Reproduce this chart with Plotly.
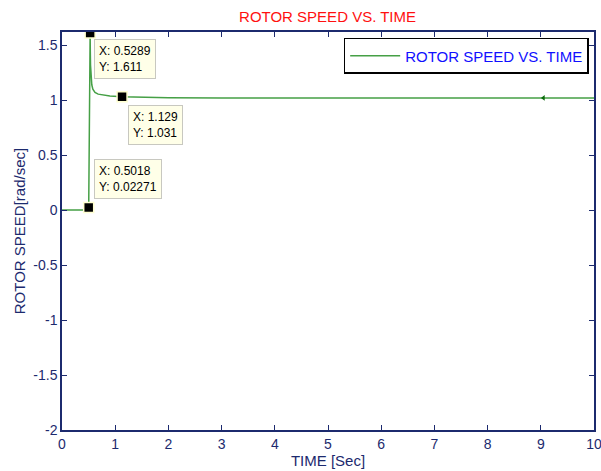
import plotly.graph_objects as go

# Rotor speed response samples (time in s, speed in rad/sec)
time = [0.0, 0.5, 0.5018, 0.515, 0.5289, 0.532, 0.536, 0.545, 0.56, 0.58, 0.62,
        0.68, 0.78, 0.9, 1.129, 1.5, 2.0, 3.0, 4.0, 5.0, 6.0, 7.0, 8.0, 9.0, 10.0]
speed = [0.0, 0.0, 0.02271, 0.9, 1.611, 1.45, 1.32, 1.21, 1.14, 1.1, 1.07,
         1.055, 1.045, 1.037, 1.031, 1.025, 1.022, 1.02, 1.02, 1.02, 1.02, 1.02, 1.02, 1.02, 1.02]

# Data cursor points
tip_x = [0.5289, 1.129, 0.5018]
tip_y = [1.611, 1.031, 0.02271]

x_ticks = [0, 1, 2, 3, 4, 5, 6, 7, 8, 9, 10]
y_ticks = [-2, -1.5, -1, -0.5, 0, 0.5, 1, 1.5]
y_labels = ["-2", "-1.5", "-1", "-0.5", "0", "0.5", "1", "1.5"]

axis_color = "#1c2a6e"
font_family = "Liberation Sans, Arial, sans-serif"
tick_font = dict(family=font_family, size=14, color=axis_color)

fig = go.Figure()
fig.add_trace(go.Scatter(
    x=time, y=speed, mode="lines",
    line=dict(color="rgb(70,160,70)", width=1.5),
    name="ROTOR SPEED VS. TIME",
))
# small direction marker on the settled curve
fig.add_trace(go.Scatter(
    x=[9.05], y=[1.02], mode="markers",
    marker=dict(symbol="triangle-left", size=5, color="#0a6a0a"),
    showlegend=False, hoverinfo="skip",
))
fig.add_trace(go.Scatter(
    x=tip_x, y=tip_y, mode="markers",
    marker=dict(symbol="square", size=10, color="black",
                line=dict(color="#ffffd0", width=1.5)),
    showlegend=False, hoverinfo="skip",
))

# data cursor text boxes
tip_layout = [
    dict(xanchor="left", yanchor="top", xshift=4, yshift=-6),
    dict(xanchor="left", yanchor="top", xshift=6, yshift=-8),
    dict(xanchor="left", yanchor="bottom", xshift=5, yshift=9),
]
for tx, ty, lay in zip(tip_x, tip_y, tip_layout):
    fig.add_annotation(
        x=tx, y=ty, xref="x", yref="y",
        text=f"X: {tx:g}<br>Y: {ty:g}",
        showarrow=False, align="left",
        font=dict(family=font_family, size=12, color="black"),
        bgcolor="#ffffe8", bordercolor="#c8c8c0", borderwidth=1, borderpad=4,
        **lay,
    )

fig.update_layout(
    width=601, height=471,
    margin=dict(l=62, r=7, t=32, b=41, autoexpand=False),
    paper_bgcolor="white", plot_bgcolor="white",
    font=dict(family=font_family, size=14, color=axis_color),
    title=dict(text="ROTOR SPEED VS. TIME", x=0.545, xanchor="center",
               y=0.965, yanchor="middle",
               font=dict(color="#ff1010", size=15, family=font_family)),
    showlegend=True,
    legend=dict(x=0.99, y=0.985, xanchor="right", yanchor="top",
                bgcolor="white", bordercolor="black", borderwidth=1.5,
                itemwidth=50,
                font=dict(color="#1010ff", size=15, family=font_family)),
    xaxis=dict(range=[0, 10], tickvals=x_ticks, ticks="inside", ticklen=5,
               ticklabeloverflow="allow", tickfont=tick_font,
               showline=True, mirror="ticks", linecolor=axis_color, linewidth=1.5,
               tickcolor=axis_color, showgrid=False, zeroline=False, automargin=False,
               title=dict(text="TIME [Sec]", standoff=2,
                          font=dict(size=15, color=axis_color))),
    yaxis=dict(range=[-2, 1.62], tickvals=y_ticks, ticktext=y_labels,
               ticks="inside", ticklen=5, tickfont=tick_font,
               showline=True, mirror="ticks", linecolor=axis_color, linewidth=1.5,
               tickcolor=axis_color, showgrid=False, zeroline=False, automargin=False,
               title=dict(text="ROTOR SPEED[rad/sec]", standoff=4,
                          font=dict(size=15, color=axis_color))),
)

fig.write_html("out.html")
